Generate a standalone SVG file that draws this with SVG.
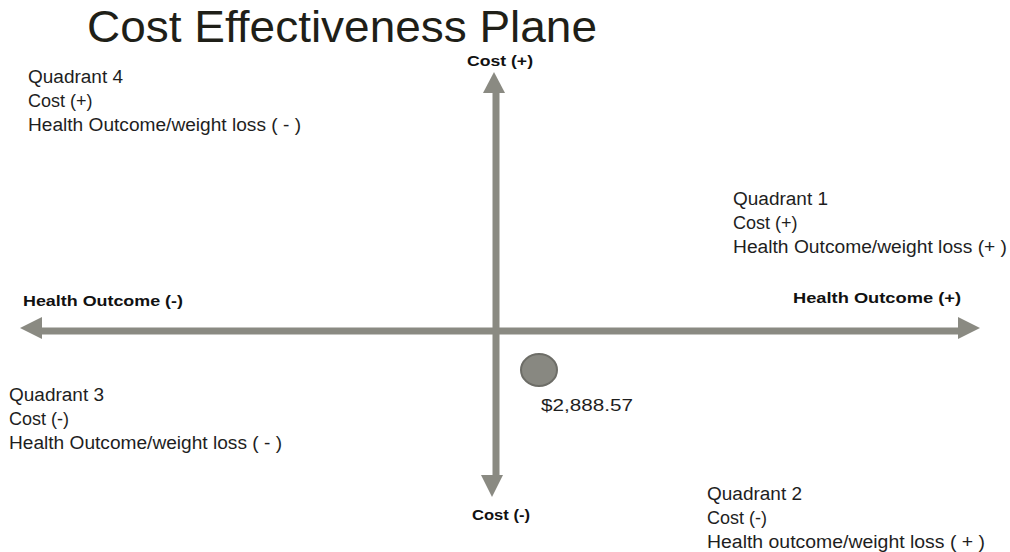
<svg xmlns="http://www.w3.org/2000/svg" width="1010" height="552" viewBox="0 0 1010 552">
<style>
.t{font-family:"Liberation Sans Narrow","Liberation Sans",Arial,sans-serif;fill:#1e1e1e;font-size:18px}
.title{font-family:"Liberation Sans Narrow","Liberation Sans",Arial,sans-serif;fill:#1f1f18;font-size:45px}
.b{font-family:"Liberation Sans","Arial",sans-serif;font-weight:bold;fill:#111;font-size:15px}
.bn{font-family:"Liberation Sans Narrow","Liberation Sans",Arial,sans-serif;font-weight:bold;fill:#111;font-size:15px}
.v{font-family:"Liberation Sans",Arial,sans-serif;fill:#1e1e1e;font-size:17px}
.ax{stroke:#8a8a82;stroke-width:7;fill:none}
.ah{fill:#8a8a82}
</style>
<rect width="1010" height="552" fill="#ffffff"/>
<g id="title"><text class="title" x="87" y="42" textLength="510" lengthAdjust="spacingAndGlyphs">Cost Effectiveness Plane</text></g>
<g id="connectors">
<line class="ax" x1="40" y1="331" x2="960" y2="331"/>
<polygon class="ah" points="20,328 42,317 42,339"/>
<polygon class="ah" points="980,328 958,317 958,339"/>
<line class="ax" x1="496" y1="90" x2="496" y2="477"/>
<polygon class="ah" points="494,72 483,93 505,93"/>
<polygon class="ah" points="492,497 481,475 503,475"/>
</g>
<g id="axis-labels">
<text class="bn" x="467" y="66" textLength="66" lengthAdjust="spacingAndGlyphs">Cost (+)</text>
<text class="bn" x="472" y="520" textLength="58" lengthAdjust="spacingAndGlyphs">Cost (-)</text>
<text class="b" x="23" y="306" textLength="160" lengthAdjust="spacingAndGlyphs">Health Outcome (-)</text>
<text class="b" x="793" y="303" textLength="168" lengthAdjust="spacingAndGlyphs">Health Outcome (+)</text>
</g>
<g id="quadrant4">
<text class="t" x="28" y="83" textLength="95" lengthAdjust="spacingAndGlyphs">Quadrant 4</text>
<text class="t" x="28" y="107">Cost (+)</text>
<text class="t" x="28" y="131" textLength="273" lengthAdjust="spacingAndGlyphs">Health Outcome/weight loss ( - )</text>
</g>
<g id="quadrant1">
<text class="t" x="733" y="205" textLength="95" lengthAdjust="spacingAndGlyphs">Quadrant 1</text>
<text class="t" x="733" y="229">Cost (+)</text>
<text class="t" x="733" y="253" textLength="274" lengthAdjust="spacingAndGlyphs">Health Outcome/weight loss (+ )</text>
</g>
<g id="quadrant3">
<text class="t" x="9" y="401" textLength="95" lengthAdjust="spacingAndGlyphs">Quadrant 3</text>
<text class="t" x="9" y="425">Cost (-)</text>
<text class="t" x="9" y="449" textLength="273" lengthAdjust="spacingAndGlyphs">Health Outcome/weight loss ( - )</text>
</g>
<g id="quadrant2">
<text class="t" x="707" y="500" textLength="95" lengthAdjust="spacingAndGlyphs">Quadrant 2</text>
<text class="t" x="707" y="524">Cost (-)</text>
<text class="t" x="707" y="548" textLength="278" lengthAdjust="spacingAndGlyphs">Health outcome/weight loss ( + )</text>
</g>
<g id="point">
<ellipse cx="539" cy="370" rx="18" ry="16" fill="#888881" stroke="#6d6d67" stroke-width="2"/>
<text class="v" x="541" y="411" textLength="92" lengthAdjust="spacingAndGlyphs">$2,888.57</text>
</g>
</svg>
